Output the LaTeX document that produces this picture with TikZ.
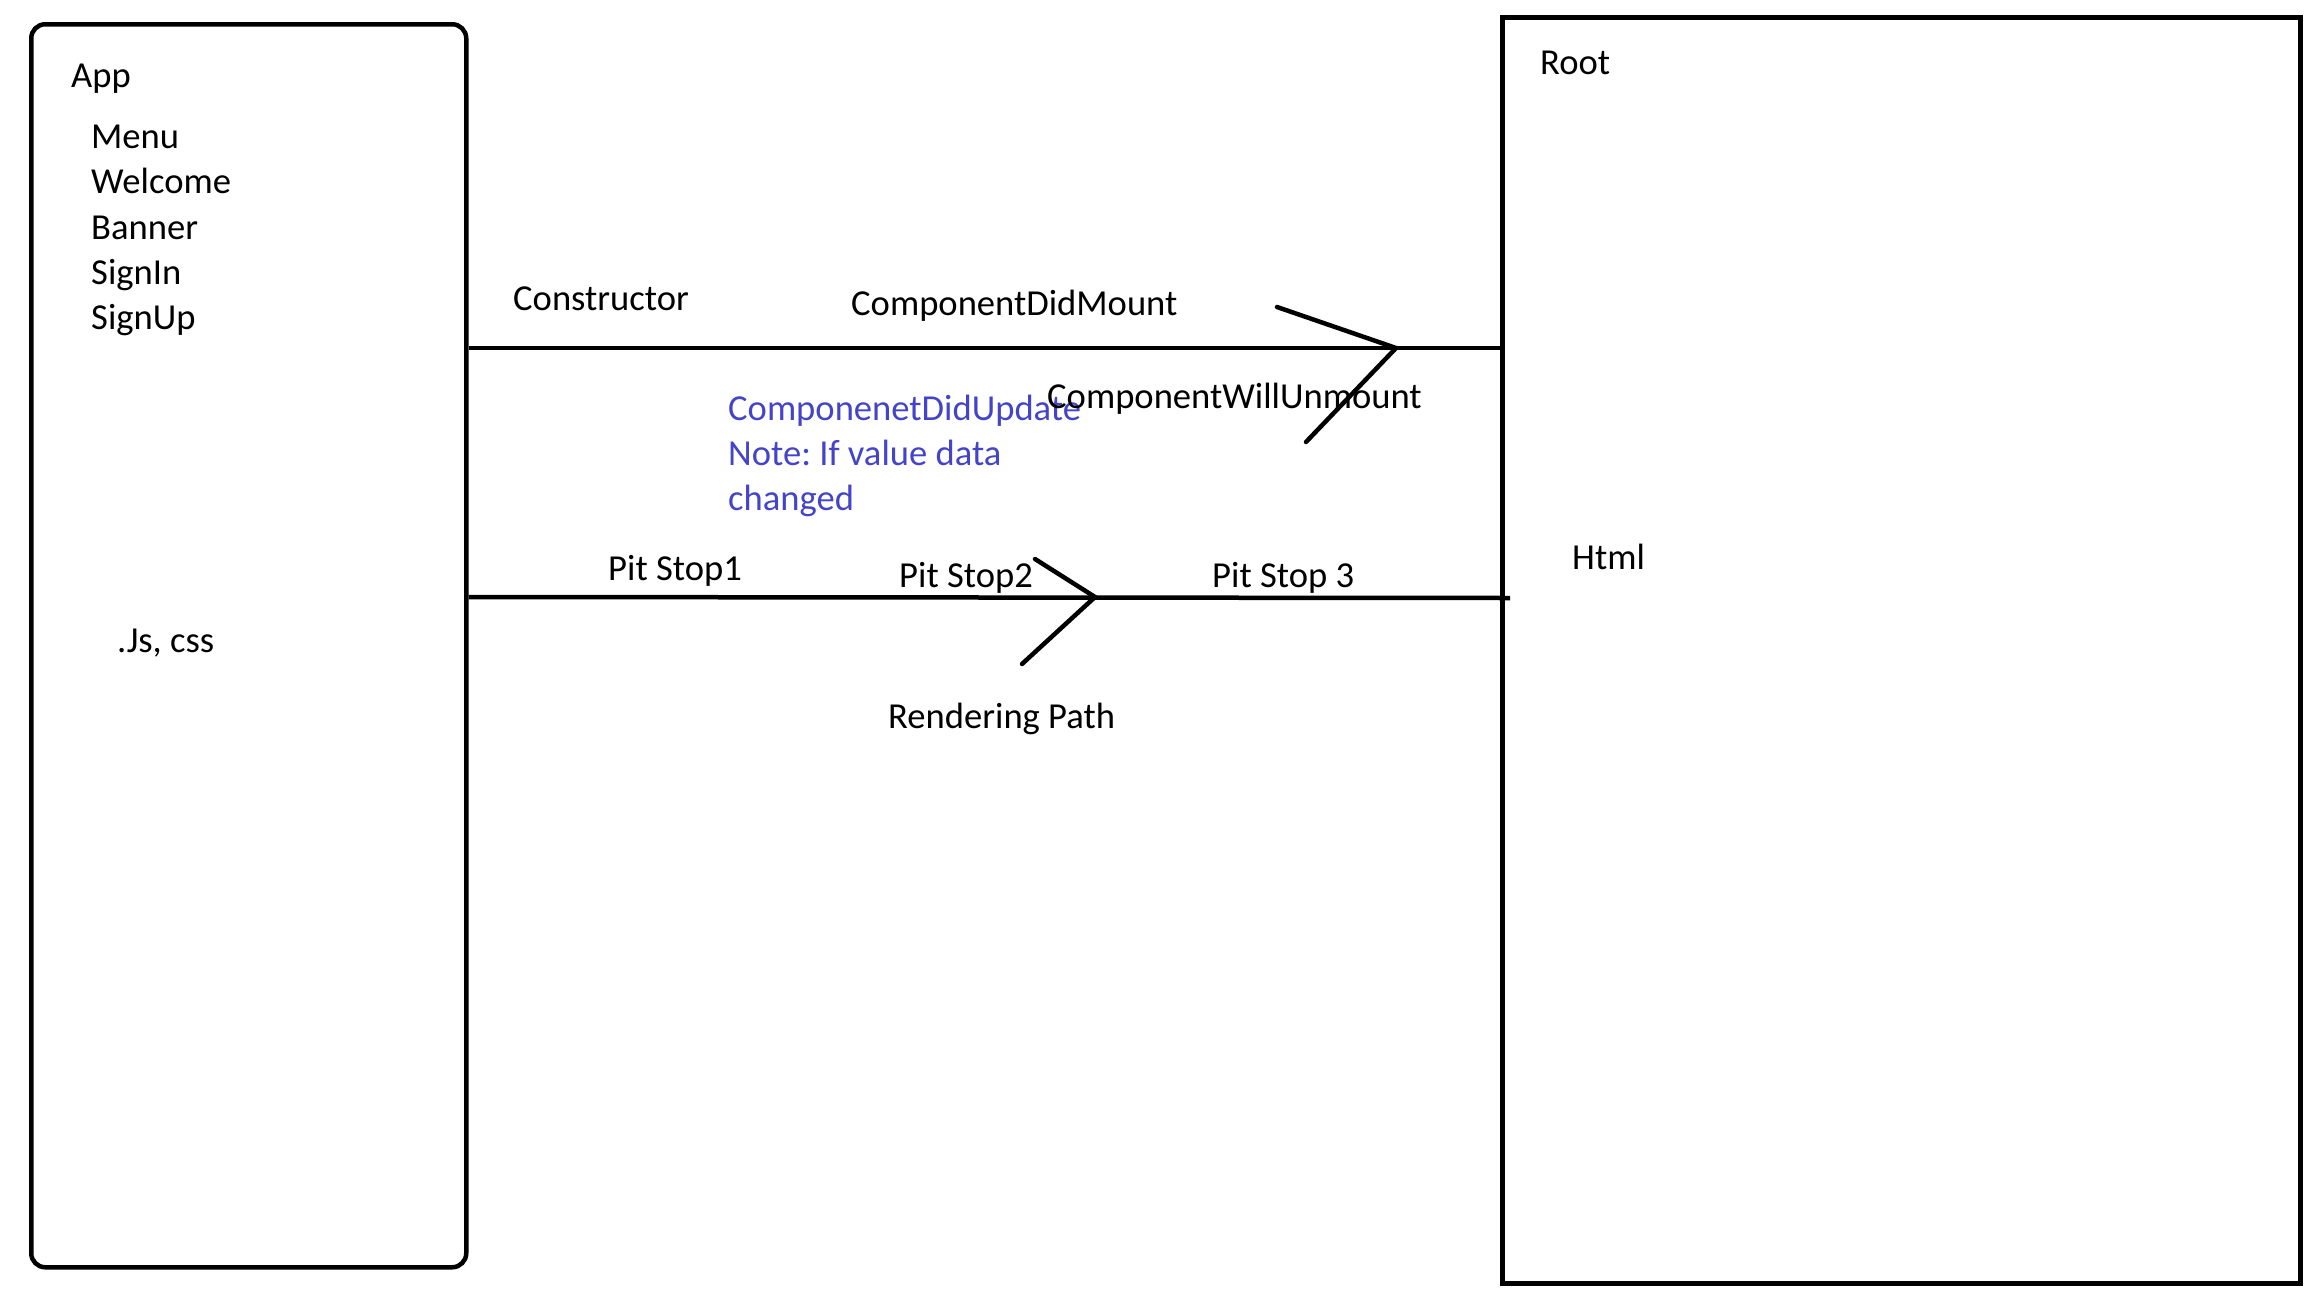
\documentclass[tikz,border=0pt]{standalone}
\usepackage{fontspec}
\setmainfont{Carlito}
\definecolor{noteblue}{RGB}{68,68,200}
\frenchspacing
\begin{document}
\begin{tikzpicture}[x=1pt,y=-1pt,
  lbl/.style={anchor=base west, inner sep=0pt, font=\fontsize{36.6}{44}\selectfont},
  bluelbl/.style={lbl, text=noteblue},
  boxframe/.style={draw, line width=4.5pt, inner sep=0pt, anchor=north west},
  edge/.style={line width=4.5pt},
  tick/.style={line width=4.5pt, line cap=round}]
\useasboundingbox (0,0) rectangle (2304,1296);
% boxes
\node[boxframe, rounded corners=14pt, minimum width=435pt, minimum height=1243pt] (app) at (29,22) {};
\node[boxframe, minimum width=798pt, minimum height=1266pt] (root) at (1500,15) {};
% texts inside App
\node[lbl] (tapp) at (71,87) {App};
\node[lbl] (tmenu) at (91,148) {Menu};
\node[lbl] (twelcome) at (91,193) {Welcome};
\node[lbl] (tbanner) at (91,239) {Banner};
\node[lbl] (tsignin) at (91,284) {SignIn};
\node[lbl] (tsignup) at (91,329) {SignUp};
\node[lbl] (tjs) at (117,652) {.Js, css};
% texts inside Root
\node[lbl] (troot) at (1540,74) {Root};
\node[lbl] (thtml) at (1572,569) {Html};
% labels along paths
\node[lbl] (tcons) at (513,310) {Constructor};
\node[lbl] (tmount) at (851,315) {ComponentDidMount};
\node[bluelbl] (tupd) at (728,420) {ComponenetDidUpdate};
\node[bluelbl] (tnote) at (728,465) {Note: If value data};
\node[bluelbl] (tchg) at (728,510) {changed};
\node[lbl] (tunmount) at (1047,408) {ComponentWillUnmount};
\node[lbl] (tpit1) at (608,580) {Pit Stop1};
\node[lbl] (tpit2) at (899,587) {Pit Stop2};
\node[lbl] (tpit3) at (1212,587) {Pit Stop 3};
\node[lbl] (trender) at (888,728) {Rendering Path};
% lifecycle line
\draw[edge] (app.east |- 0,348) -- (root.west |- 0,348);
\coordinate (tipa) at (1396,348);
\coordinate (tipa1) at (1277,307);
\coordinate (tipa2) at (1306,442);
\draw[tick] (tipa1) -- (tipa) -- (tipa2);
% rendering line
\coordinate (pend) at (1510,598);
\draw[edge] (app.east |- 0,597) -- (pend);
\coordinate (tipb) at (1095,597);
\coordinate (tipb1) at (1035,559);
\coordinate (tipb2) at (1022,664);
\draw[tick] (tipb1) -- (tipb) -- (tipb2);
\end{tikzpicture}
\end{document}
